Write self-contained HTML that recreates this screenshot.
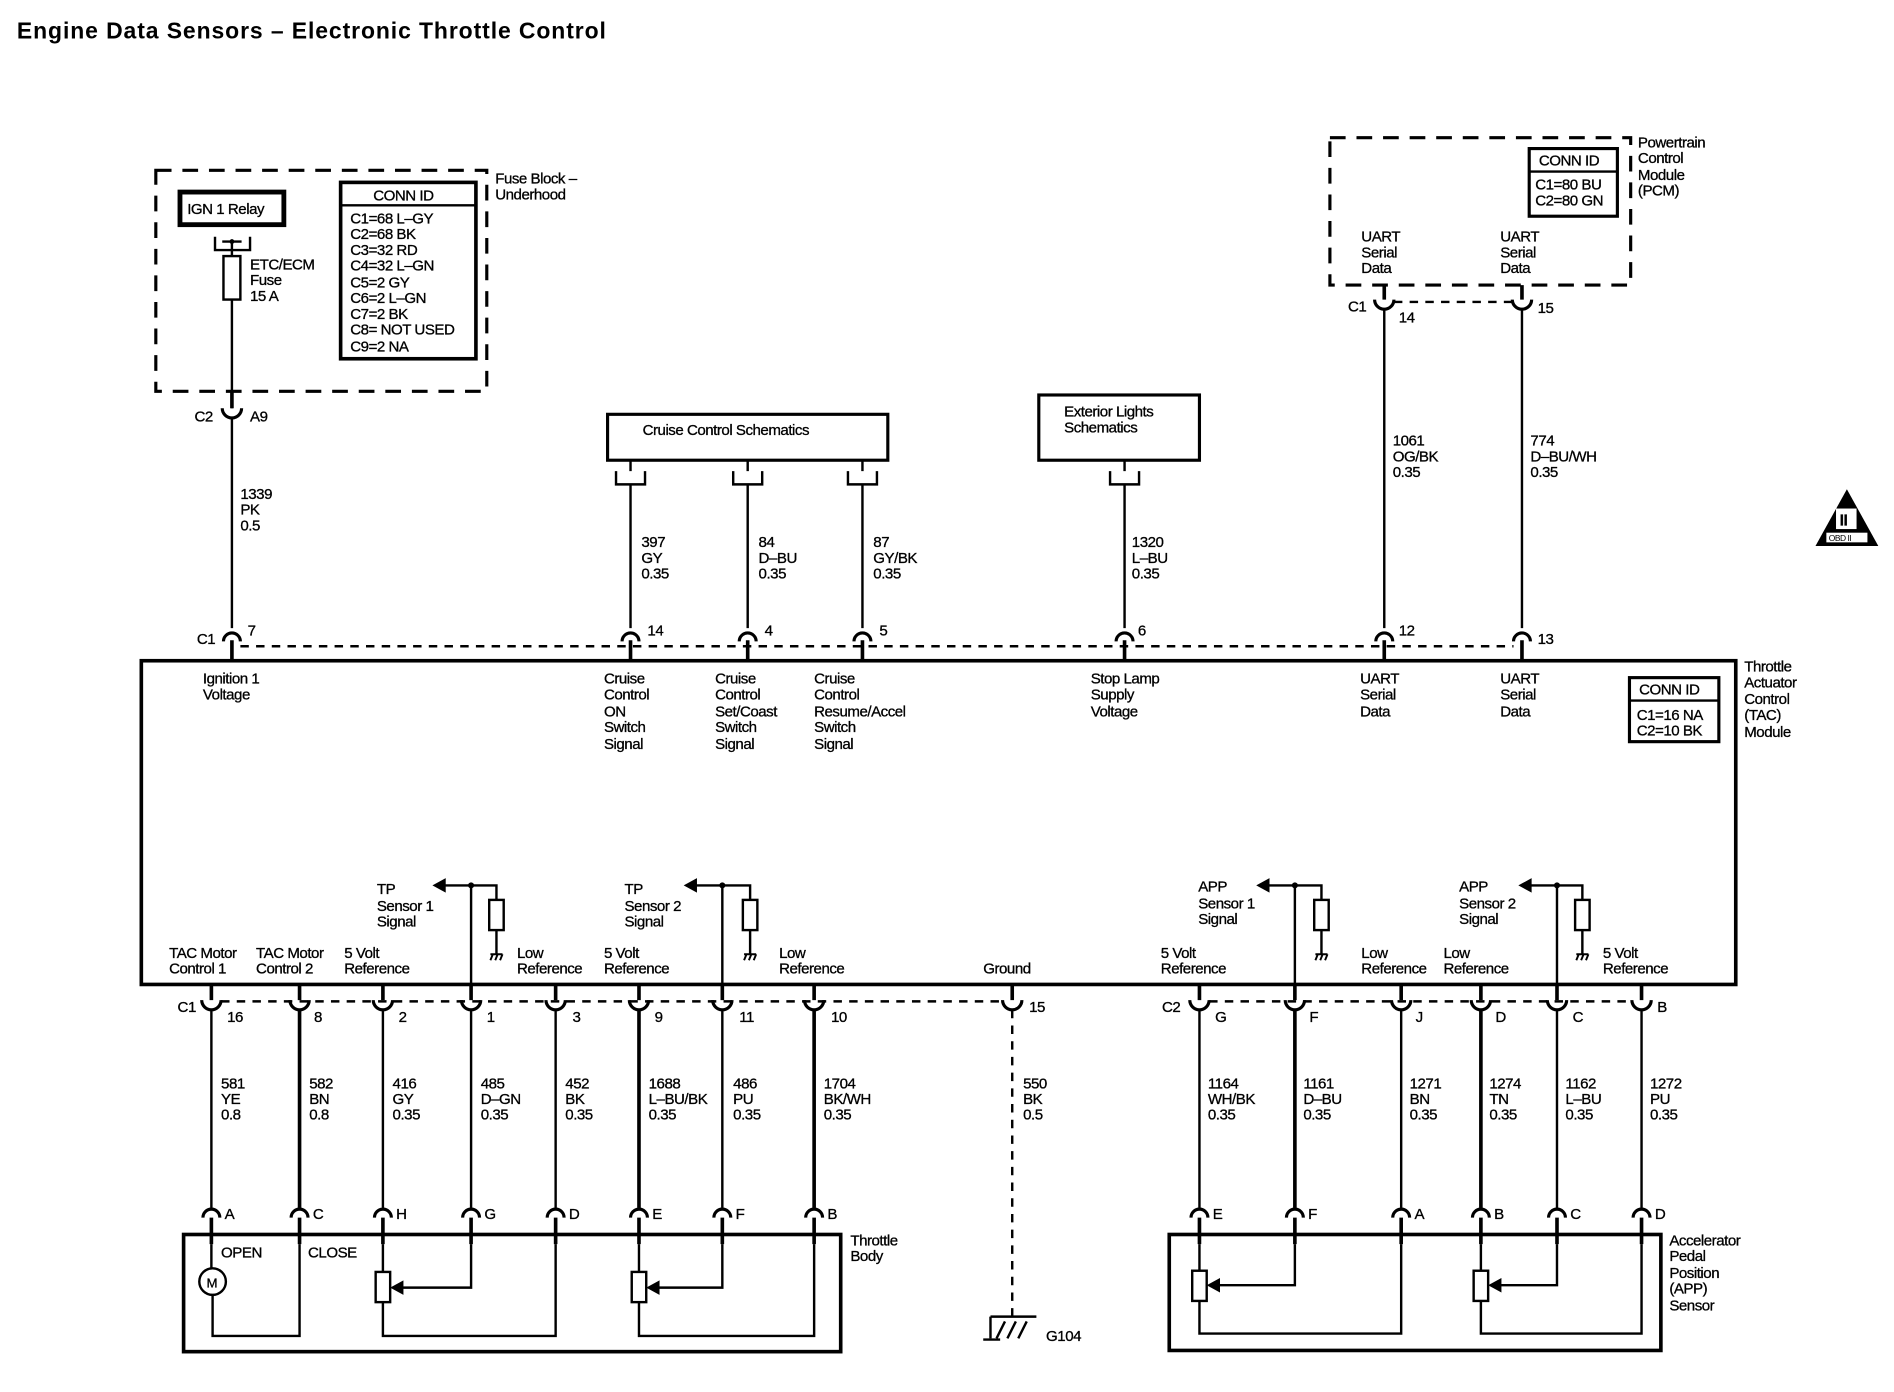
<!DOCTYPE html>
<html><head><meta charset="utf-8"><style>
html,body{margin:0;padding:0;background:#fff}
svg{display:block}
text{font-family:"Liberation Sans",Arial,sans-serif;font-size:12.5px;fill:#000;letter-spacing:-0.4px;stroke:#000;stroke-width:0.25px}
.b{stroke:#000;fill:none;stroke-width:2}
.t{stroke:#000;fill:none;stroke-width:3}
.d{stroke:#000;fill:none;stroke-width:2;stroke-dasharray:7 6}
.D{stroke:#000;fill:none;stroke-width:2.6;stroke-dasharray:13 9}
</style></head><body>
<svg width="1894" height="1392" viewBox="0 0 1568 1152.4" preserveAspectRatio="none" xmlns="http://www.w3.org/2000/svg">
<defs>
<path id="cup" d="M-8,-5 A8,8 0 0,0 8,-5" stroke="#000" stroke-width="2.6" fill="none"/>
<path id="cap" d="M-7,5 A7,7 0 0,1 7,5" stroke="#000" stroke-width="2.6" fill="none"/>
<g id="gnd"><path d="M-5,0 H5 M-5,5 L-3,0 M-1,5 L1,0 M3,5 L5,0" stroke="#000" stroke-width="1.6" fill="none"/></g>
</defs>
<text x="14" y="32" style="font-size:19px;font-weight:bold;letter-spacing:0.75px;stroke-width:0">Engine Data Sensors – Electronic Throttle Control</text>

<!-- Fuse block -->
<rect x="129" y="141" width="274" height="183" class="D"/>
<text x="410" y="152">Fuse Block –</text><text x="410" y="165">Underhood</text>
<rect x="149" y="159" width="86" height="27" stroke="#000" stroke-width="4" fill="none"/>
<text x="155" y="177">IGN 1 Relay</text>
<path d="M178,196 V207 H207 V196 M184,200 H200" class="b"/>
<circle cx="192" cy="200" r="2"/>
<rect x="185" y="212" width="14" height="36" class="b"/>
<text x="207" y="223">ETC/ECM</text><text x="207" y="236">Fuse</text><text x="207" y="249">15 A</text>
<path d="M192,200 V212 M192,248 V338" class="b"/>
<rect x="282" y="151" width="112" height="146" stroke="#000" stroke-width="3" fill="none"/>
<line x1="282" y1="170" x2="394" y2="170" class="b"/>
<text x="309" y="166">CONN ID</text>
<text x="290" y="185">C1=68 L–GY</text><text x="290" y="198">C2=68 BK</text><text x="290" y="211">C3=32 RD</text><text x="290" y="224">C4=32 L–GN</text><text x="290" y="238">C5=2 GY</text><text x="290" y="251">C6=2 L–GN</text><text x="290" y="264">C7=2 BK</text><text x="290" y="277">C8= NOT USED</text><text x="290" y="291">C9=2 NA</text>
<line x1="192" y1="324" x2="192" y2="338" class="t" stroke-width="4"/>
<use href="#cup" x="192" y="343"/>
<text x="161" y="349">C2</text><text x="207" y="349">A9</text>
<line x1="192" y1="346" x2="192" y2="520" class="b"/>
<text x="199" y="413">1339</text><text x="199" y="426">PK</text><text x="199" y="439">0.5</text>

<!-- Cruise control -->
<rect x="503" y="343" width="232" height="38" stroke="#000" stroke-width="2.6" fill="none"/>
<text x="532" y="360">Cruise Control Schematics</text>
<path d="M510,390 V401 H534 V390 M607,390 V401 H631 V390 M702,390 V401 H726 V390 M522,381 V390 M619,381 V390 M714,381 V390" class="b"/>
<path d="M522,401 V520 M619,401 V520 M714,401 V520" class="b"/>
<text x="531" y="453">397</text><text x="531" y="466">GY</text><text x="531" y="479">0.35</text>
<text x="628" y="453">84</text><text x="628" y="466">D–BU</text><text x="628" y="479">0.35</text>
<text x="723" y="453">87</text><text x="723" y="466">GY/BK</text><text x="723" y="479">0.35</text>
<rect x="860" y="327" width="133" height="54" stroke="#000" stroke-width="2.6" fill="none"/>
<text x="881" y="345">Exterior Lights</text><text x="881" y="358">Schematics</text>
<path d="M919,390 V401 H943 V390 M931,381 V390 M931,401 V520" class="b"/>
<text x="937" y="453">1320</text><text x="937" y="466">L–BU</text><text x="937" y="479">0.35</text>

<!-- PCM -->
<rect x="1101" y="114" width="249" height="122" class="D"/>
<rect x="1266" y="123" width="73" height="56" stroke="#000" stroke-width="2.6" fill="none"/>
<line x1="1266" y1="142" x2="1339" y2="142" class="b"/>
<text x="1274" y="137">CONN ID</text><text x="1271" y="157">C1=80 BU</text><text x="1271" y="170">C2=80 GN</text>
<text x="1356" y="122">Powertrain</text><text x="1356" y="135">Control</text><text x="1356" y="149">Module</text><text x="1356" y="162">(PCM)</text>
<text x="1127" y="200">UART</text><text x="1127" y="213">Serial</text><text x="1127" y="226">Data</text>
<text x="1242" y="200">UART</text><text x="1242" y="213">Serial</text><text x="1242" y="226">Data</text>
<path d="M1146,236 V248 M1260,236 V248" class="t" stroke-width="4"/>
<use href="#cup" x="1146" y="253"/><use href="#cup" x="1260" y="253"/>
<line x1="1154" y1="250" x2="1252" y2="250" class="d"/>
<text x="1116" y="258">C1</text><text x="1158" y="267">14</text><text x="1273" y="259">15</text>
<path d="M1146,256 V520 M1260,256 V520" class="b"/>
<text x="1153" y="369">1061</text><text x="1153" y="382">OG/BK</text><text x="1153" y="395">0.35</text>
<text x="1267" y="369">774</text><text x="1267" y="382">D–BU/WH</text><text x="1267" y="395">0.35</text>

<!-- OBD -->
<path d="M1529,405 L1555,452 H1503 Z" fill="#000"/>
<rect x="1520" y="421" width="17" height="17" fill="#fff"/>
<text x="1523" y="435" style="font-size:13px;font-weight:bold">II</text>
<rect x="1512" y="441" width="34" height="8" fill="#fff"/>
<text x="1514" y="448" style="font-size:7px;stroke-width:0">OBD II</text>

<!-- Top connectors of TAC -->
<g>
<use href="#cap" x="192" y="526"/><use href="#cap" x="522" y="526"/><use href="#cap" x="619" y="526"/><use href="#cap" x="714" y="526"/><use href="#cap" x="931" y="526"/><use href="#cap" x="1146" y="526"/><use href="#cap" x="1260" y="526"/>
<path d="M192,530 V547 M522,530 V547 M619,530 V547 M714,530 V547 M931,530 V547 M1146,530 V547 M1260,530 V547" class="t" stroke-width="4"/>
<line x1="199" y1="535" x2="1253" y2="535" class="d"/>
<text x="163" y="533">C1</text><text x="205" y="526">7</text><text x="536" y="526">14</text><text x="633" y="526">4</text><text x="728" y="526">5</text><text x="942" y="526">6</text><text x="1158" y="526">12</text><text x="1273" y="533">13</text>
</g>

<!-- TAC module -->
<rect x="117" y="547" width="1320" height="268" stroke="#000" stroke-width="3" fill="none"/>
<text x="168" y="566">Ignition 1</text><text x="168" y="579">Voltage</text>
<text x="500" y="566">Cruise</text><text x="500" y="579">Control</text><text x="500" y="593">ON</text><text x="500" y="606">Switch</text><text x="500" y="620">Signal</text>
<text x="592" y="566">Cruise</text><text x="592" y="579">Control</text><text x="592" y="593">Set/Coast</text><text x="592" y="606">Switch</text><text x="592" y="620">Signal</text>
<text x="674" y="566">Cruise</text><text x="674" y="579">Control</text><text x="674" y="593">Resume/Accel</text><text x="674" y="606">Switch</text><text x="674" y="620">Signal</text>
<text x="903" y="566">Stop Lamp</text><text x="903" y="579">Supply</text><text x="903" y="593">Voltage</text>
<text x="1126" y="566">UART</text><text x="1126" y="579">Serial</text><text x="1126" y="593">Data</text>
<text x="1242" y="566">UART</text><text x="1242" y="579">Serial</text><text x="1242" y="593">Data</text>
<rect x="1349" y="561" width="74" height="53" stroke="#000" stroke-width="2.6" fill="none"/>
<line x1="1349" y1="580" x2="1423" y2="580" class="b"/>
<text x="1357" y="575">CONN ID</text><text x="1355" y="596">C1=16 NA</text><text x="1355" y="609">C2=10 BK</text>
<text x="1444" y="556">Throttle</text><text x="1444" y="569">Actuator</text><text x="1444" y="583">Control</text><text x="1444" y="596">(TAC)</text><text x="1444" y="610">Module</text>

<!-- internal sensors -->
<g class="b">
<path d="M390,815 V733 H368 M390,733 H411 V745 M411,770 V790"/>
<path d="M598,815 V733 H576 M598,733 H621 V745 M621,770 V790"/>
<path d="M1072,815 V733 H1050 M1072,733 H1094 V745 M1094,770 V790"/>
<path d="M1289,815 V733 H1267 M1289,733 H1310 V745 M1310,770 V790"/>
</g>
<g fill="#000">
<path d="M358,733 L369,727 L369,739 Z"/><path d="M566,733 L577,727 L577,739 Z"/><path d="M1040,733 L1051,727 L1051,739 Z"/><path d="M1257,733 L1268,727 L1268,739 Z"/>
<circle cx="390" cy="733" r="2.5"/><circle cx="598" cy="733" r="2.5"/><circle cx="1072" cy="733" r="2.5"/><circle cx="1289" cy="733" r="2.5"/>
</g>
<g class="b"><rect x="405" y="745" width="12" height="25"/><rect x="615" y="745" width="12" height="25"/><rect x="1088" y="745" width="12" height="25"/><rect x="1304" y="745" width="12" height="25"/></g>
<use href="#gnd" x="411" y="790"/><use href="#gnd" x="621" y="790"/><use href="#gnd" x="1094" y="790"/><use href="#gnd" x="1310" y="790"/>
<text x="312" y="740">TP</text><text x="312" y="754">Sensor 1</text><text x="312" y="767">Signal</text>
<text x="517" y="740">TP</text><text x="517" y="754">Sensor 2</text><text x="517" y="767">Signal</text>
<text x="992" y="738">APP</text><text x="992" y="752">Sensor 1</text><text x="992" y="765">Signal</text>
<text x="1208" y="738">APP</text><text x="1208" y="752">Sensor 2</text><text x="1208" y="765">Signal</text>
<text x="140" y="793">TAC Motor</text><text x="140" y="806">Control 1</text>
<text x="212" y="793">TAC Motor</text><text x="212" y="806">Control 2</text>
<text x="285" y="793">5 Volt</text><text x="285" y="806">Reference</text>
<text x="428" y="793">Low</text><text x="428" y="806">Reference</text>
<text x="500" y="793">5 Volt</text><text x="500" y="806">Reference</text>
<text x="645" y="793">Low</text><text x="645" y="806">Reference</text>
<text x="814" y="806">Ground</text>
<text x="961" y="793">5 Volt</text><text x="961" y="806">Reference</text>
<text x="1127" y="793">Low</text><text x="1127" y="806">Reference</text>
<text x="1195" y="793">Low</text><text x="1195" y="806">Reference</text>
<text x="1327" y="793">5 Volt</text><text x="1327" y="806">Reference</text>

<!-- bottom connectors -->
<path d="M175,815 V828 M248,815 V828 M317,815 V828 M390,815 V828 M460,815 V828 M529,815 V828 M598,815 V828 M674,815 V828 M838,815 V828 M993,815 V828 M1072,815 V828 M1160,815 V828 M1226,815 V828 M1289,815 V828 M1359,815 V828" class="t" stroke-width="4"/>
<g>
<use href="#cup" x="175" y="833"/><use href="#cup" x="248" y="833"/><use href="#cup" x="317" y="833"/><use href="#cup" x="390" y="833"/><use href="#cup" x="460" y="833"/><use href="#cup" x="529" y="833"/><use href="#cup" x="598" y="833"/><use href="#cup" x="674" y="833"/><use href="#cup" x="838" y="833"/>
<use href="#cup" x="993" y="833"/><use href="#cup" x="1072" y="833"/><use href="#cup" x="1160" y="833"/><use href="#cup" x="1226" y="833"/><use href="#cup" x="1289" y="833"/><use href="#cup" x="1359" y="833"/>
</g>
<line x1="183" y1="829" x2="830" y2="829" class="d"/>
<line x1="1001" y1="829" x2="1351" y2="829" class="d"/>
<text x="147" y="838">C1</text><text x="188" y="846">16</text><text x="260" y="846">8</text><text x="330" y="846">2</text><text x="403" y="846">1</text><text x="474" y="846">3</text><text x="542" y="846">9</text><text x="612" y="846">11</text><text x="688" y="846">10</text><text x="852" y="838">15</text>
<text x="962" y="838">C2</text><text x="1006" y="846">G</text><text x="1084" y="846">F</text><text x="1172" y="846">J</text><text x="1238" y="846">D</text><text x="1302" y="846">C</text><text x="1372" y="838">B</text>
<g class="b">
<path d="M175,836 V1000 M317,836 V1000 M390,836 V1000 M460,836 V1000 M598,836 V1000 M993,836 V1000 M1160,836 V1000 M1289,836 V1000 M1359,836 V1000"/>
</g>
<g class="t">
<path d="M248,836 V1000 M529,836 V1000 M674,836 V1000 M1072,836 V1000 M1226,836 V1000"/>
</g>
<path d="M838,836 V1090" class="d"/>
<text x="183" y="901">581</text><text x="183" y="914">YE</text><text x="183" y="927">0.8</text>
<text x="256" y="901">582</text><text x="256" y="914">BN</text><text x="256" y="927">0.8</text>
<text x="325" y="901">416</text><text x="325" y="914">GY</text><text x="325" y="927">0.35</text>
<text x="398" y="901">485</text><text x="398" y="914">D–GN</text><text x="398" y="927">0.35</text>
<text x="468" y="901">452</text><text x="468" y="914">BK</text><text x="468" y="927">0.35</text>
<text x="537" y="901">1688</text><text x="537" y="914">L–BU/BK</text><text x="537" y="927">0.35</text>
<text x="607" y="901">486</text><text x="607" y="914">PU</text><text x="607" y="927">0.35</text>
<text x="682" y="901">1704</text><text x="682" y="914">BK/WH</text><text x="682" y="927">0.35</text>
<text x="847" y="901">550</text><text x="847" y="914">BK</text><text x="847" y="927">0.5</text>
<text x="1000" y="901">1164</text><text x="1000" y="914">WH/BK</text><text x="1000" y="927">0.35</text>
<text x="1079" y="901">1161</text><text x="1079" y="914">D–BU</text><text x="1079" y="927">0.35</text>
<text x="1167" y="901">1271</text><text x="1167" y="914">BN</text><text x="1167" y="927">0.35</text>
<text x="1233" y="901">1274</text><text x="1233" y="914">TN</text><text x="1233" y="927">0.35</text>
<text x="1296" y="901">1162</text><text x="1296" y="914">L–BU</text><text x="1296" y="927">0.35</text>
<text x="1366" y="901">1272</text><text x="1366" y="914">PU</text><text x="1366" y="927">0.35</text>

<!-- bottom caps -->
<g>
<use href="#cap" x="175" y="1003"/><use href="#cap" x="248" y="1003"/><use href="#cap" x="317" y="1003"/><use href="#cap" x="390" y="1003"/><use href="#cap" x="460" y="1003"/><use href="#cap" x="529" y="1003"/><use href="#cap" x="598" y="1003"/><use href="#cap" x="674" y="1003"/>
<use href="#cap" x="993" y="1003"/><use href="#cap" x="1072" y="1003"/><use href="#cap" x="1160" y="1003"/><use href="#cap" x="1226" y="1003"/><use href="#cap" x="1289" y="1003"/><use href="#cap" x="1359" y="1003"/>
</g>
<text x="186" y="1009">A</text><text x="259" y="1009">C</text><text x="328" y="1009">H</text><text x="401" y="1009">G</text><text x="471" y="1009">D</text><text x="540" y="1009">E</text><text x="609" y="1009">F</text><text x="685" y="1009">B</text>
<text x="1004" y="1009">E</text><text x="1083" y="1009">F</text><text x="1171" y="1009">A</text><text x="1237" y="1009">B</text><text x="1300" y="1009">C</text><text x="1370" y="1009">D</text>
<path d="M175,1008 V1030 M248,1008 V1030 M317,1008 V1030 M390,1008 V1030 M460,1008 V1030 M529,1008 V1030 M598,1008 V1030 M674,1008 V1030 M993,1008 V1030 M1072,1008 V1030 M1160,1008 V1030 M1226,1008 V1030 M1289,1008 V1030 M1359,1008 V1030" class="t" stroke-width="4"/>

<!-- Throttle body -->
<rect x="152" y="1022" width="544" height="97" class="t"/>
<text x="704" y="1031">Throttle</text><text x="704" y="1044">Body</text>
<text x="183" y="1041">OPEN</text><text x="255" y="1041">CLOSE</text>
<circle cx="176" cy="1061" r="11" class="b"/>
<text x="171" y="1066" style="font-size:11px">M</text>
<path d="M175,1030 V1050 M176,1072 V1106 H248 V1030" class="b"/>
<path d="M317,1030 V1053 M317,1078 V1106 H460 V1030 M390,1030 V1066 H332" class="b"/>
<path d="M529,1030 V1053 M529,1078 V1106 H674 V1030 M598,1030 V1066 H544" class="b" stroke-width="2.5"/>
<rect x="311" y="1053" width="12" height="25" class="b"/>
<rect x="523" y="1053" width="12" height="25" class="b"/>
<path d="M323,1066 L334,1060 L334,1072 Z"/><path d="M535,1066 L546,1060 L546,1072 Z"/>

<!-- G104 -->
<path d="M820,1090 H858 M820,1090 V1108 M825,1108 L832,1094 M834,1108 L841,1094 M843,1108 L850,1094" class="b"/>
<path d="M814,1109 H828" class="b"/>
<text x="866" y="1110">G104</text>

<!-- APP sensor -->
<rect x="968" y="1022" width="407" height="96" class="t"/>
<text x="1382" y="1031">Accelerator</text><text x="1382" y="1044">Pedal</text><text x="1382" y="1058">Position</text><text x="1382" y="1071">(APP)</text><text x="1382" y="1085">Sensor</text>
<path d="M993,1030 V1052 M993,1077 V1104 H1160 V1030 M1072,1030 V1064 H1008" class="b"/>
<path d="M1226,1030 V1052 M1226,1077 V1104 H1359 V1030 M1289,1030 V1064 H1241" class="b"/>
<rect x="987" y="1052" width="12" height="25" class="b"/>
<rect x="1220" y="1052" width="12" height="25" class="b"/>
<path d="M999,1064 L1010,1058 L1010,1070 Z"/><path d="M1232,1064 L1243,1058 L1243,1070 Z"/>
</svg>
</body></html>
